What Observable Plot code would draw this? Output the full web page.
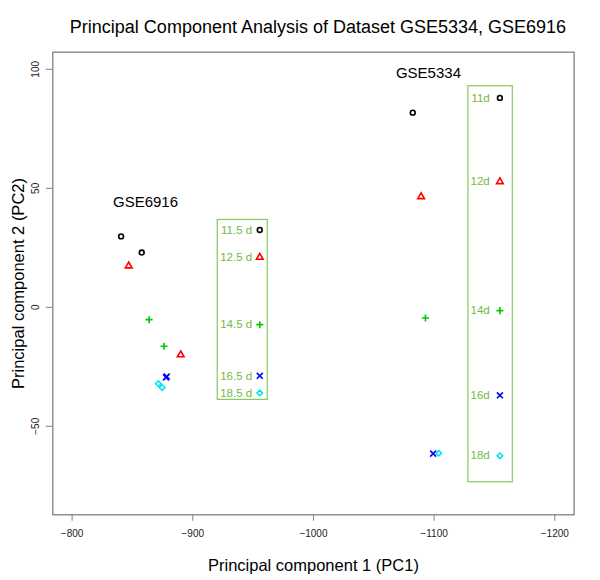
<!DOCTYPE html>
<html><head><meta charset="utf-8">
<script src="https://cdn.jsdelivr.net/npm/d3@7"></script>
<script src="https://cdn.jsdelivr.net/npm/@observablehq/plot@0.6"></script>
<style>
body{margin:0;background:#fff;font-family:"Liberation Sans",Arial,sans-serif;}
#title{box-sizing:border-box;width:600px;height:40px;padding:18px 24px 0 60px;text-align:center;font-size:18px;line-height:18px;color:#000;white-space:nowrap;}
#chart svg{display:block;}
</style></head><body>
<div id="title">Principal Component Analysis of Dataset GSE5334, GSE6916</div>
<div id="chart"></div>
<script>
// ---- data ----
const xTicks = [-800, -900, -1000, -1100, -1200];
const yTicks = [-50, 0, 50, 100];

const stageSymbols = ["circle", "triangle2", "plus", "times", "diamond2"];
const stageColors  = ["#000000", "#ff0000", "#00c800", "#0000ff", "#00e5ee"];
const stageSizes   = [2.4, 3.2, 2.4, 2.8, 2.5];

// GSE6916 samples
const gse6916PC1   = [-840.6, -857.7, -846.9, -890.0, -863.8, -876.2, -878.4, -877.8, -871.5, -874.6];
const gse6916PC2   = [29.8, 23.0, 17.4, -20.0, -5.2, -16.4, -29.1, -29.5, -32.1, -33.7];
const gse6916Stage = [0, 0, 1, 1, 2, 2, 3, 3, 4, 4];

// GSE5334 samples
const gse5334PC1   = [-1082.3, -1089.2, -1092.8, -1099.2, -1103.8];
const gse5334PC2   = [81.8, 46.5, -4.5, -61.5, -61.3];
const gse5334Stage = [0, 1, 2, 3, 4];

// dataset labels
const datasetNames = ["GSE6916", "GSE5334"];
const datasetPC1   = [-860.8, -1095.3];
const datasetPC2   = [44.0, 98.2];

// legend boxes (GSE6916, GSE5334)
const boxPC1a = [-920.7, -1128.4];
const boxPC1b = [-962.1, -1165.2];
const boxPC2a = [-38.9, -73.5];
const boxPC2b = [36.7, 92.9];

// legend entries
const legend6916Labels  = ["11.5 d", "12.5 d", "14.5 d", "16.5 d", "18.5 d"];
const legend6916PC2     = [32.5, 21.0, -7.3, -28.8, -36.0];
const legend6916SymPC1  = -955.5;
const legend6916TextPC1 = -949.2;

const legend5334Labels  = ["11d", "12d", "14d", "16d", "18d"];
const legend5334PC2     = [88.0, 52.8, -1.4, -37.0, -62.4];
const legend5334SymPC1  = -1154.5;
const legend5334TextPC1 = -1146.1;

const legendGreen = "#72ba44";
const boxGreen = "#86c95c";
const font = "Liberation Sans, Arial, sans-serif";
const fmt = d3.format("d");

// ---- marks ----
function dotMarks(pc1, pc2, stage) {
  return stageSymbols.map((sym, k) => {
    const idx = stage.map((s, i) => s === k ? i : -1).filter(i => i >= 0);
    return Plot.dot(idx, {
      x: i => pc1[i], y: i => pc2[i],
      symbol: sym, r: stageSizes[k], stroke: stageColors[k], fill: "none", strokeWidth: 1.6
    });
  });
}
function legendDots(pc1, pc2s) {
  return stageSymbols.map((sym, k) => Plot.dot([k], {
    x: () => pc1, y: () => pc2s[k],
    symbol: sym, r: stageSizes[k], stroke: stageColors[k], fill: "none", strokeWidth: 1.6
  }));
}

const chart = Plot.plot({
  width: 600, height: 540,
  marginLeft: 52.3, marginRight: 26.4, marginTop: 11.7, marginBottom: 65.7,
  style: {fontFamily: font, background: "#fff", overflow: "visible"},
  x: {domain: [-784, -1216], label: null},
  y: {domain: [-87.2, 107.2], label: null},
  marks: [
    Plot.axisX({ticks: xTicks, tickFormat: fmt, tickSize: 6.5, tickPadding: 9, fontSize: 10, stroke: "#808080", fill: "#222", label: null}),
    Plot.axisY({ticks: yTicks, tickFormat: fmt, tickSize: 6.5, tickPadding: 7, tickRotate: -90, fontSize: 10, stroke: "#808080", fill: "#222", label: null}),
    Plot.frame({stroke: "#808080", strokeWidth: 1.3}),
    Plot.text(["Principal component 1 (PC1)"], {frameAnchor: "bottom", dy: 56, lineAnchor: "bottom", textAnchor: "middle", fontSize: 16.5, fill: "#000"}),
    Plot.text(["Principal component 2 (PC2)"], {frameAnchor: "left", dx: -34.5, rotate: -90, lineAnchor: "middle", textAnchor: "middle", fontSize: 16.5, fill: "#000"}),
    Plot.rect([0, 1], {x1: i => boxPC1a[i], x2: i => boxPC1b[i], y1: i => boxPC2a[i], y2: i => boxPC2b[i], fill: "none", stroke: boxGreen, strokeWidth: 1.2}),
    Plot.text(datasetNames, {x: (d, i) => datasetPC1[i], y: (d, i) => datasetPC2[i], fontSize: 15, fill: "#000"}),
    Plot.text(legend6916Labels, {x: () => legend6916TextPC1, y: (d, i) => legend6916PC2[i], textAnchor: "end", fontSize: 11.5, fill: legendGreen}),
    Plot.text(legend5334Labels, {x: () => legend5334TextPC1, y: (d, i) => legend5334PC2[i], textAnchor: "end", fontSize: 11.5, fill: legendGreen}),
    ...legendDots(legend6916SymPC1, legend6916PC2),
    ...legendDots(legend5334SymPC1, legend5334PC2),
    ...dotMarks(gse6916PC1, gse6916PC2, gse6916Stage),
    ...dotMarks(gse5334PC1, gse5334PC2, gse5334Stage)
  ]
});
document.getElementById("chart").appendChild(chart);
</script>
</body></html>
